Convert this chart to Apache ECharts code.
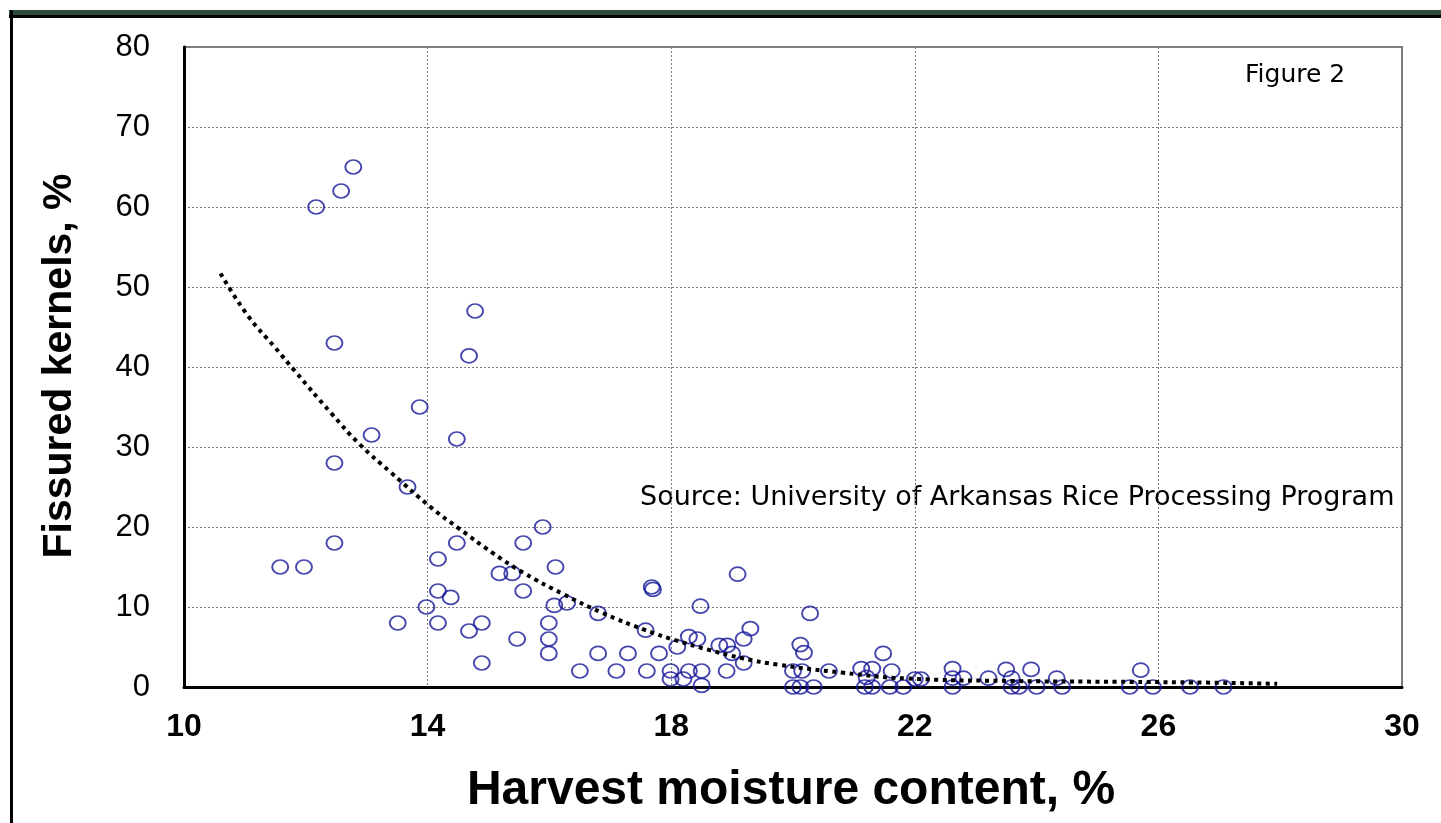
<!DOCTYPE html>
<html>
<head>
<meta charset="utf-8">
<title>Figure 2</title>
<script src="https://cdn.jsdelivr.net/npm/echarts@6/dist/echarts.min.js"></script>
<style>
html, body{ margin:0; padding:0; background:#fff; }
#chart{ width:1441px; height:823px; }
</style>
</head>
<body>
<div id="chart"></div>
<script>
/* Harvest moisture content, % (x of each sample) */
const moisture = [
    12.78, 12.58, 12.17, 14.78, 12.47, 14.68, 13.87, 13.08, 14.48, 12.47,
    13.67, 15.89, 12.47, 14.48, 15.57, 14.17, 11.58, 11.97, 16.10, 15.18,
    15.39, 14.17, 15.57, 14.38, 13.98, 16.08, 16.29, 13.51, 14.17, 14.89,
    14.68, 15.99, 15.47, 15.99, 15.99, 14.89, 19.09, 17.68, 17.70,
    18.48, 20.28, 16.80, 17.58, 19.30, 19.19, 18.29, 18.43, 18.10, 18.79,
    18.92, 19.00, 19.19, 16.80, 17.29, 17.80, 16.50, 17.10, 17.60, 17.99,
    18.29, 18.50, 18.91, 17.99, 18.20, 18.50, 20.12, 20.18, 20.00, 20.15,
    20.00, 20.12, 20.34, 20.59, 21.12, 21.30, 21.48, 21.62, 21.21, 21.18,
    21.30, 21.59, 21.81, 22.00, 22.10, 22.62, 22.62, 22.62, 22.80, 23.21,
    23.50, 23.59, 23.91, 23.59, 23.71, 24.00, 24.33, 24.42, 25.53, 25.71,
    25.91, 26.52, 27.07
];

/* Fissured kernels, % (y of each sample) */
const fissured = [
    65, 62, 60, 47, 43, 41.4, 35, 31.5, 31, 28,
    25, 20, 18, 18, 18, 16, 15, 15, 15, 14.2,
    14.2, 12, 12, 11.2, 10, 10.2, 10.5, 8, 8, 8,
    7, 8, 6, 6, 4.2, 3, 14.1, 12.5, 12.2,
    10.1, 9.2, 9.2, 7.1, 7.3, 6, 6.3, 6, 5, 5.2,
    5.2, 4.2, 3, 4.2, 4.2, 4.2, 2, 2, 2, 2,
    2, 2, 2, 1, 1, 0.2, 5.3, 4.3, 2, 2,
    0, 0, 0, 2, 2.3, 2.3, 4.2, 2, 1.2, 0,
    0, 0, 0, 1, 1, 2.3, 1.1, 0, 1.1, 1.1,
    2.2, 1.1, 2.2, 0, 0, 0, 1.1, 0, 0, 2.1,
    0, 0, 0
];

/* Dotted trend line */
const trendMoisture = [
    10.6, 11.05, 11.5, 11.82, 12.42, 12.89, 13.4, 14.08, 14.5, 15.08,
    15.57, 16.23, 16.86, 17.58, 18.09, 18.59, 19.17, 19.75, 20.8, 21.9,
    23.6, 25.3, 26.8, 27.95
];

const trendFissured = [
    51.7, 46.4, 42.4, 39.5, 34.2, 30.3, 26.8, 22.3, 19.9, 16.7,
    14.3, 11.6, 9.3, 7.1, 5.8, 4.7, 3.6, 2.8, 1.8, 1.05,
    0.75, 0.65, 0.55, 0.4
];

/* Axis ticks */
const xTicks = { min: 10, max: 30, step: 4 };
const yTicks = { min: 0, max: 80, step: 10 };

const chart = echarts.init(document.getElementById("chart"));

const points = moisture.map((m, i) => [m, fissured[i]]);

const trend = trendMoisture.map((m, i) => [m, trendFissured[i]]);

const gridLine = {
    show: true,
    lineStyle: { color: "#7a7a7a", width: 1, type: [2, 2] }
};

chart.setOption({

    animation: false,

    grid: {
        left: 184,
        top: 47,
        right: 39,
        bottom: 136,
        show: true,
        borderColor: "#808080",
        borderWidth: 2
    },

    xAxis: {
        type: "value",
        min: xTicks.min,
        max: xTicks.max,
        interval: xTicks.step,
        axisLine: { show: true, onZero: false, lineStyle: { color: "#000", width: 3 } },
        axisTick: { show: false },
        axisLabel: {
            margin: 24,
            color: "#000",
            fontFamily: "Liberation Sans",
            fontWeight: "bold",
            fontSize: 32
        },
        splitLine: gridLine
    },

    yAxis: {
        type: "value",
        min: yTicks.min,
        max: yTicks.max,
        interval: yTicks.step,
        axisLine: { show: true, onZero: false, lineStyle: { color: "#000", width: 3 } },
        axisTick: { show: false },
        axisLabel: {
            margin: 34,
            color: "#000",
            fontFamily: "Liberation Sans",
            fontSize: 31
        },
        splitLine: gridLine
    },

    series: [
        {
            type: "scatter",
            data: points,
            symbol: "circle",
            symbolSize: [16, 14],
            itemStyle: {
                color: "rgba(0,0,0,0)",
                borderColor: "#16169a",
                borderWidth: 1.8
            },
            z: 3
        },
        {
            type: "line",
            data: trend,
            smooth: true,
            showSymbol: false,
            lineStyle: { color: "#000", width: 4, type: [4, 4.5] },
            z: 4
        }
    ],

    graphic: [
        /* outer frame */
        { type: "rect", shape: { x: 9, y: 10, width: 1432, height: 6 }, style: { fill: "#2e4a3c" } },
        { type: "rect", shape: { x: 9, y: 15, width: 1432, height: 3 }, style: { fill: "#000" } },
        { type: "rect", shape: { x: 10, y: 10, width: 3, height: 813 }, style: { fill: "#000" } },

        /* axis titles */
        {
            type: "text",
            x: 791,
            y: 791,
            style: {
                text: "Harvest moisture content, %",
                font: "bold 48px 'Liberation Sans'",
                fill: "#000",
                align: "center",
                verticalAlign: "middle"
            }
        },
        {
            type: "text",
            x: 60,
            y: 366,
            rotation: Math.PI / 2,
            style: {
                text: "Fissured kernels, %",
                font: "bold 41px 'Liberation Sans'",
                fill: "#000",
                align: "center",
                verticalAlign: "middle"
            }
        },

        /* notes */
        {
            type: "text",
            x: 1245,
            y: 75,
            style: {
                text: "Figure 2",
                font: "25px 'DejaVu Sans'",
                fill: "#000",
                align: "left",
                verticalAlign: "middle"
            }
        },
        {
            type: "text",
            x: 640,
            y: 498,
            style: {
                text: "Source: University of Arkansas Rice Processing Program",
                font: "27px 'DejaVu Sans'",
                fill: "#000",
                align: "left",
                verticalAlign: "middle"
            }
        }
    ]
});
</script>
</body>
</html>
